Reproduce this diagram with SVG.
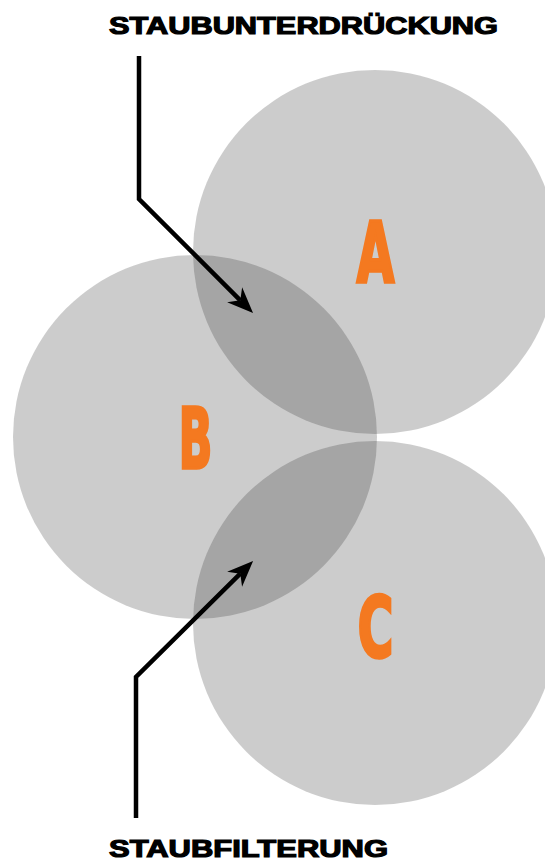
<svg xmlns="http://www.w3.org/2000/svg" width="545" height="860" viewBox="0 0 545 860">
<style>
.circ{fill:#262626;fill-opacity:0.235}
.letter{font-family:"Liberation Sans Narrow","DejaVu Sans Condensed","Liberation Sans",sans-serif;font-weight:bold;font-size:84px;fill:#f47920;stroke:#f47920;stroke-width:3.5;stroke-linejoin:miter;text-anchor:middle}
.label{font-family:"Liberation Sans","Arial",sans-serif;font-weight:bold;font-size:24px;fill:#000;stroke:#000;stroke-width:1.2}
.conn{fill:none;stroke:#000;stroke-width:4.5;stroke-linejoin:miter}
</style>
<defs>
<marker id="arrow" markerUnits="userSpaceOnUse" viewBox="-10 -12 32 24" refX="0" refY="0" markerWidth="32" markerHeight="24" orient="auto" overflow="visible">
<path d="M18,0 L-8,-10.6 L0,0 L-8,10.6 Z" fill="#000"/>
</marker>
</defs>
<rect width="545" height="860" fill="#fff"/>
<g id="nodeA">
<circle class="circ" cx="375" cy="252" r="182"/>
<text class="letter" x="375.5" y="281.5" textLength="37.5" lengthAdjust="spacingAndGlyphs">A</text>
</g>
<g id="nodeB">
<circle class="circ" cx="195" cy="437" r="182"/>
<text class="letter" x="195.5" y="467.5" textLength="33.5" lengthAdjust="spacingAndGlyphs">B</text>
</g>
<g id="nodeC">
<circle class="circ" cx="375" cy="623" r="182"/>
<text class="letter" x="375.5" y="656.5" textLength="35.5" lengthAdjust="spacingAndGlyphs">C</text>
</g>
<g id="labelTop">
<text class="label" x="109" y="33.5" textLength="389" lengthAdjust="spacingAndGlyphs">STAUBUNTERDRÜCKUNG</text>
</g>
<g id="labelBottom">
<text class="label" x="109" y="856.5" textLength="279" lengthAdjust="spacingAndGlyphs">STAUBFILTERUNG</text>
</g>
<g id="connectors">
<path class="conn" d="M139,56 L139,199 L240.3,300.3" marker-end="url(#arrow)"/>
<path class="conn" d="M136,818 L136,677 L240.3,573.7" marker-end="url(#arrow)"/>
</g>
</svg>
